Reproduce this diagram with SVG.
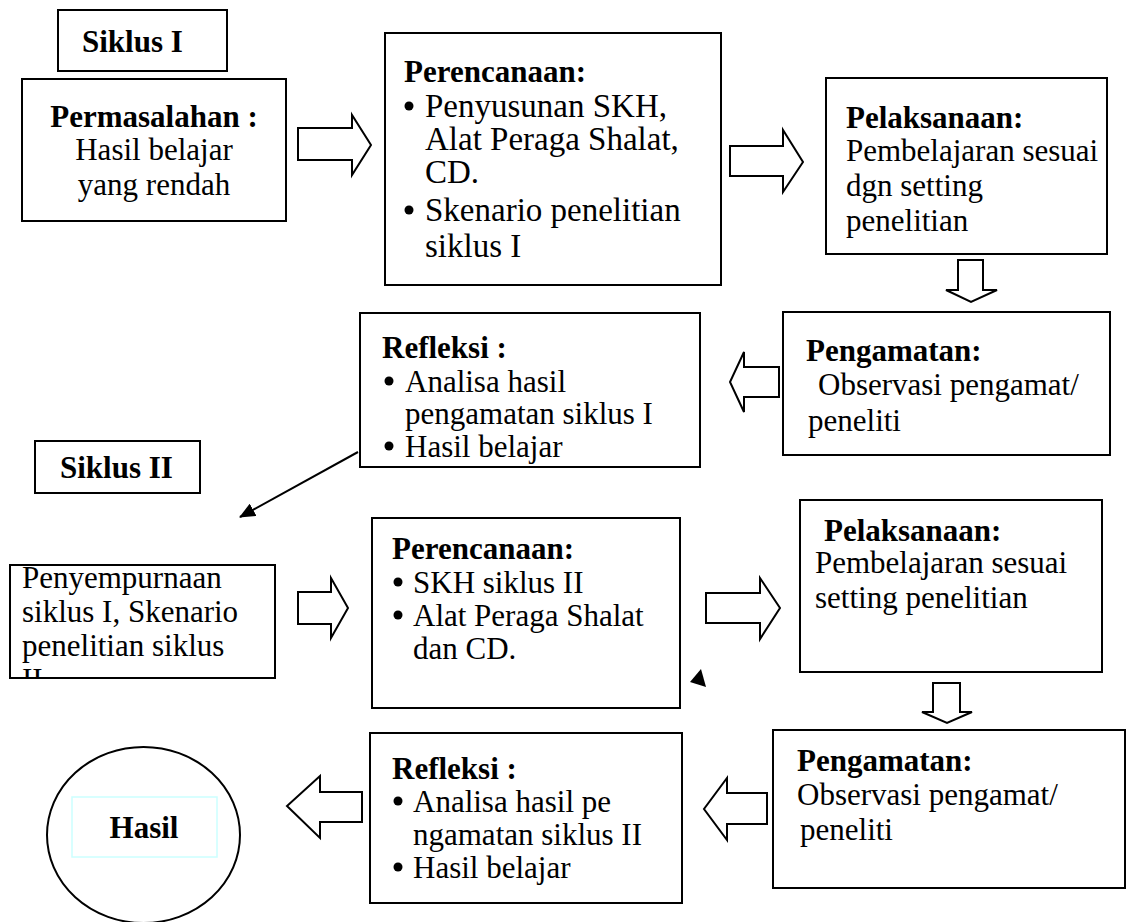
<svg xmlns="http://www.w3.org/2000/svg" width="1138" height="922" viewBox="0 0 1138 922">
<defs>
<style>
.box{fill:#fff;stroke:#000;stroke-width:2}
.arr{fill:#fff;stroke:#000;stroke-width:2;stroke-linejoin:miter}
text{font-family:"Liberation Serif","Times New Roman",serif;font-size:31px;fill:#000}
.b{font-weight:bold}
.c{text-anchor:middle}
.l{font-size:33px}
.dot{fill:#000}
</style>
<clipPath id="clipP"><rect x="10" y="565" width="265" height="112"/></clipPath>
<marker id="ah" markerWidth="16" markerHeight="14" refX="15" refY="7" orient="auto" markerUnits="userSpaceOnUse" viewBox="0 0 16 14"><path d="M0,0 L16,7 L0,14 z" fill="#000"/></marker>
</defs>
<rect width="1138" height="922" fill="#fff"/>

<g id="siklus1">
<rect class="box" x="58" y="10" width="169" height="61"/>
<text class="b" x="82" y="52">Siklus I</text>
</g>

<g id="permasalahan">
<rect class="box" x="22" y="79" width="264" height="142"/>
<text class="b c" x="154" y="127">Permasalahan :</text>
<text class="c" x="154" y="160">Hasil belajar</text>
<text class="c" x="154" y="195">yang rendah</text>
</g>

<g id="perencanaan1">
<rect class="box" x="385" y="33" width="336" height="252"/>
<text class="b" x="404" y="82">Perencanaan:</text>
<circle class="dot" cx="409" cy="106" r="4.5"/>
<text class="l" x="425" y="117">Penyusunan SKH,</text>
<text class="l" x="425" y="150">Alat Peraga Shalat,</text>
<text class="l" x="425" y="183">CD.</text>
<circle class="dot" cx="409" cy="210" r="4.5"/>
<text class="l" x="425" y="221">Skenario penelitian</text>
<text class="l" x="425" y="257">siklus I</text>
</g>

<g id="pelaksanaan1">
<rect class="box" x="826" y="78" width="281" height="176"/>
<text class="b" x="846" y="128">Pelaksanaan:</text>
<text x="846" y="161">Pembelajaran sesuai</text>
<text x="846" y="196">dgn setting</text>
<text x="846" y="231">penelitian</text>
</g>

<g id="pengamatan1">
<rect class="box" x="783" y="312" width="327" height="143"/>
<text class="b" x="806" y="361">Pengamatan:</text>
<text x="818" y="395">Observasi pengamat/</text>
<text x="808" y="431">peneliti</text>
</g>

<g id="refleksi1">
<rect class="box" x="360" y="313" width="340" height="154"/>
<text class="b" x="382" y="358">Refleksi :</text>
<circle class="dot" cx="389" cy="381" r="4.5"/>
<text x="405" y="392">Analisa hasil</text>
<text x="405" y="424">pengamatan siklus I</text>
<circle class="dot" cx="389" cy="446" r="4.5"/>
<text x="405" y="457">Hasil belajar</text>
</g>

<g id="siklus2">
<rect class="box" x="35" y="441" width="165" height="52"/>
<text class="b" x="60" y="478">Siklus II</text>
</g>

<g id="penyempurnaan">
<rect class="box" x="10" y="565" width="265" height="113"/>
<g clip-path="url(#clipP)">
<text x="22" y="588">Penyempurnaan</text>
<text x="22" y="622">siklus I, Skenario</text>
<text x="22" y="656">penelitian siklus</text>
<text x="22" y="690">II</text>
</g>
</g>

<g id="perencanaan2">
<rect class="box" x="372" y="518" width="308" height="190"/>
<text class="b" x="392" y="559">Perencanaan:</text>
<circle class="dot" cx="398" cy="582" r="4.5"/>
<text x="413" y="593">SKH siklus II</text>
<circle class="dot" cx="398" cy="615" r="4.5"/>
<text x="413" y="626">Alat Peraga Shalat</text>
<text x="413" y="659">dan CD.</text>
</g>

<g id="pelaksanaan2">
<rect class="box" x="800" y="500" width="302" height="172"/>
<text class="b" x="824" y="541">Pelaksanaan:</text>
<text x="815" y="573">Pembelajaran sesuai</text>
<text x="815" y="608">setting penelitian</text>
</g>

<g id="pengamatan2">
<rect class="box" x="773" y="730" width="352" height="158"/>
<text class="b" x="797" y="771">Pengamatan:</text>
<text x="797" y="805">Observasi pengamat/</text>
<text x="800" y="840">peneliti</text>
</g>

<g id="refleksi2">
<rect class="box" x="370" y="733" width="312" height="170"/>
<text class="b" x="392" y="779">Refleksi :</text>
<circle class="dot" cx="398" cy="801" r="4.5"/>
<text x="413" y="812">Analisa hasil pe</text>
<text x="413" y="845">ngamatan siklus II</text>
<circle class="dot" cx="398" cy="867" r="4.5"/>
<text x="413" y="878">Hasil belajar</text>
</g>

<g id="hasil">
<ellipse cx="143.5" cy="835" rx="96.5" ry="88" fill="#fff" stroke="#000" stroke-width="2"/>
<rect x="72" y="797" width="145" height="60" fill="none" stroke="#ccffff" stroke-width="1.5"/>
<text class="b c" x="144" y="838">Hasil</text>
</g>

<g id="connectors">
<polygon class="arr" points="298,128 352,128 352,115 371,145 352,175 352,160 298,160"/>
<polygon class="arr" points="730,146 783,146 783,130 803,162 783,192 783,176 730,176"/>
<polygon class="arr" points="958,260 983,260 983,290 997,290 971,302 946,290 958,290"/>
<polygon class="arr" points="779,367 744,367 744,352 730,382 744,412 744,397 779,397"/>
<line x1="358" y1="452" x2="240" y2="517" stroke="#000" stroke-width="2" marker-end="url(#ah)"/>
<polygon class="arr" points="298,592 331,592 331,578 348,608 331,638 331,624 298,624"/>
<polygon class="arr" points="706,593 760,593 760,578 780,608 760,639 760,623 706,623"/>
<polygon points="690,682 701,669 706,687" fill="#000"/>
<polygon class="arr" points="933,683 960,683 960,712 972,712 947,723 922,712 933,712"/>
<polygon class="arr" points="767,793 727,793 727,778 704,809 727,840 727,824 767,824"/>
<polygon class="arr" points="362,792 320,792 320,776 287,806 320,838 320,822 362,822"/>
</g>
</svg>
